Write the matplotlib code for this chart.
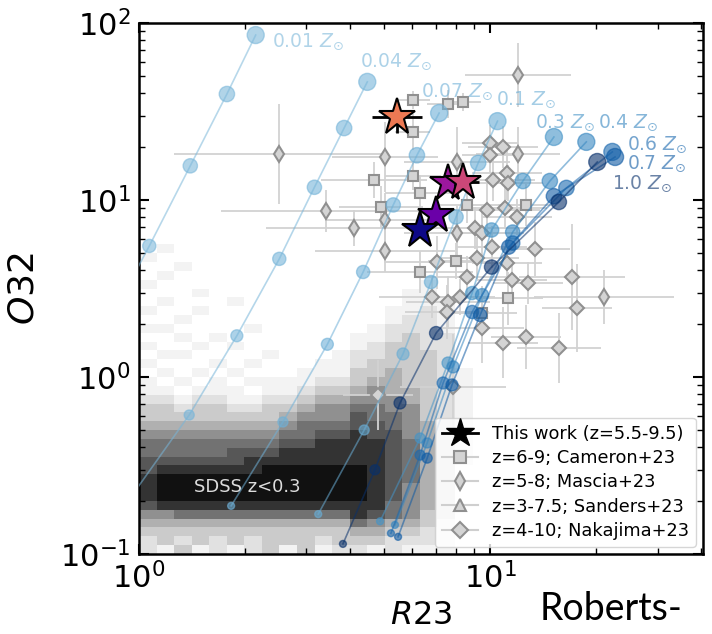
import numpy as np
import matplotlib.pyplot as plt
from matplotlib.lines import Line2D
from matplotlib.ticker import NullFormatter

# SDSS z<0.3 background: grey level (0 = empty, 9 = darkest),
# cells of 0.05 dex, top row first
sdss_log_r23_edges = np.linspace(0.0, 1.0, 21)
sdss_log_o32_edges = np.linspace(-1.0, 0.8, 37)
sdss_rows = [
    "00000000000000000000",
    "01000000000000000000",
    "10000000000000000000",
    "00100000000000000000",
    "01000000000000000000",
    "10000000000000001000",
    "00010000000000011000",
    "01000100000000011100",
    "10010000000000112100",
    "00100000000000122100",
    "11000010000001222100",
    "00101000000011232200",
    "10010100000012332200",
    "01100001000122333200",
    "10001010001123333200",
    "01010100011133433210",
    "10101011112234433210",
    "11011101123345443210",
    "22122112234455543210",
    "33233223345566553210",
    "33333333455576653210",
    "44444444566677654210",
    "55555555667787754210",
    "66666666778888764210",
    "66666777888888764210",
    "77777788888888764210",
    "78888889999998764200",
    "89999999999998764200",
    "89999999999998754200",
    "89999999999998754200",
    "78888888888888654200",
    "55666666666687653200",
    "44444444444465443100",
    "33333333333344332100",
    "23232323332333222100",
    "21312123131221211100",
]

# photoionisation model tracks, 7 ionisation parameters each (low U -> high U)
model_Z = [0.01, 0.04, 0.07, 0.1, 0.3, 0.4, 0.6, 0.7, 1.0]
model_names = ['0.01', '0.04', '0.07', '0.1', '0.3', '0.4', '0.6', '0.7', '1.0']
r23_z001 = [0.47, 0.62, 0.81, 1.07, 1.40, 1.78, 2.15]
o32_z001 = [0.25, 0.69, 1.95, 5.50, 15.6, 39.7, 85.5]
r23_z004 = [0.955, 1.39, 1.90, 2.51, 3.16, 3.84, 4.47]
o32_z004 = [0.214, 0.610, 1.71, 4.65, 11.8, 25.5, 46.5]
r23_z007 = [1.83, 2.57, 3.44, 4.35, 5.30, 6.19, 7.16]
o32_z007 = [0.187, 0.557, 1.53, 3.92, 9.38, 17.9, 31.0]
r23_z01 = [3.24, 4.38, 5.65, 6.79, 8.00, 9.25, 10.5]
o32_z01 = [0.168, 0.502, 1.35, 3.44, 8.02, 16.2, 27.9]
r23_z03 = [4.86, 6.32, 7.59, 8.89, 10.1, 12.4, 15.2]
o32_z03 = [0.153, 0.452, 1.20, 2.98, 6.77, 12.8, 22.7]
r23_z04 = [5.36, 6.62, 7.85, 9.49, 11.6, 14.8, 18.8]
o32_z04 = [0.146, 0.424, 1.14, 2.90, 6.59, 12.8, 21.3]
r23_z06 = [5.22, 6.32, 7.35, 8.89, 11.6, 16.5, 22.3]
o32_z06 = [0.131, 0.362, 0.925, 2.33, 5.71, 11.7, 18.7]
r23_z07 = [5.47, 6.62, 7.79, 9.37, 11.3, 15.2, 22.7]
o32_z07 = [0.125, 0.348, 0.902, 2.24, 5.42, 10.5, 17.5]
r23_z10 = [3.81, 4.70, 5.54, 7.02, 10.1, 15.7, 20.2]
o32_z10 = [0.114, 0.299, 0.713, 1.77, 4.18, 9.75, 16.4]
# where the metallicity labels sit
label_r23 = [2.40, 4.25, 6.35, 10.4, 13.4, 20.3, 24.6, 24.6, 22.2]
label_o32 = [78.2, 60.2, 40.8, 37.0, 27.4, 27.4, 20.6, 16.0, 12.4]

# literature samples (errors in dex)
cam_r23 = [6.03, 7.59, 8.38, 6.03, 4.67, 6.03, 6.32, 4.89, 8.60, 12.66, 8.00, 6.32, 11.25, 9.49]
cam_o32 = [36.7, 34.9, 35.8, 24.2, 12.97, 13.7, 10.95, 9.13, 9.37, 9.37, 4.52, 3.92, 2.79, 2.30]
cam_r23_err = [0.05, 0.06, 0.05, 0.05, 0.15, 0.08, 0.1, 0.12, 0.1, 0.08, 0.08, 0.15, 0.1, 0.1]
cam_o32_err = [0.05, 0.08, 0.05, 0.1, 0.1, 0.08, 0.1, 0.12, 0.1, 0.12, 0.1, 0.12, 0.15, 0.15]

mas_r23 = [2.51, 3.41, 4.10, 5.02, 5.02, 5.02, 8.05, 8.05, 12.02, 12.02, 21.13]
mas_o32 = [18.2, 8.67, 6.95, 17.5, 7.71, 5.15, 16.4, 6.51, 50.8, 18.2, 2.83]
mas_r23_err = [0.3, 0.3, 0.25, 0.15, 0.17, 0.2, 0.15, 0.15, 0.15, 0.12, 0.2]
mas_o32_err = [0.28, 0.12, 0.1, 0.2, 0.15, 0.12, 0.2, 0.15, 0.18, 0.15, 0.15]

nak_r23 = [10.0, 10.89, 10.0, 11.18, 10.2, 11.25, 9.80, 11.03, 11.94, 9.06,
           9.49, 10.13, 13.44, 9.18, 7.06, 11.18, 8.60, 11.55, 12.83, 17.13,
           6.84, 7.59, 8.21, 7.54, 17.70, 9.49, 10.89, 12.66, 15.73, 7.85, 4.80]
nak_o32 = [21.0, 19.9, 17.96, 14.2, 12.97, 12.5, 8.78, 9.02, 8.02, 6.95,
           6.51, 5.43, 5.29, 4.70, 4.46, 4.41, 3.67, 3.53, 3.40, 3.67,
           2.83, 2.65, 2.83, 2.33, 2.45, 1.89, 1.56, 1.68, 1.46, 0.878, 0.791]
nak_r23_err = [0.08, 0.1, 0.08, 0.1, 0.12, 0.1, 0.15, 0.12, 0.1, 0.15,
               0.12, 0.1, 0.1, 0.12, 0.15, 0.1, 0.12, 0.1, 0.1, 0.15,
               0.15, 0.12, 0.1, 0.12, 0.1, 0.12, 0.1, 0.1, 0.12, 0.15, 0.1]
nak_o32_err = [0.1, 0.12, 0.1, 0.15, 0.12, 0.1, 0.15, 0.12, 0.1, 0.12,
               0.15, 0.12, 0.15, 0.12, 0.15, 0.1, 0.12, 0.1, 0.12, 0.3,
               0.12, 0.15, 0.1, 0.15, 0.25, 0.2, 0.2, 0.18, 0.2, 0.3, 0.2]

# this work
star_r23 = [7.59, 8.38, 7.02, 6.32, 5.43]
star_o32 = [12.5, 12.6, 8.22, 6.77, 29.4]
star_r23_err = [0.0, 0.045, 0.0, 0.0, 0.07]
star_o32_err = [0.0, 0.0, 0.0, 0.0, 0.09]
star_colors = ['#9c179e', '#cc4778', '#6a00a8', '#0d0887', '#ed7953']

legend_labels = ['This work (z=5.5-9.5)', 'z=6-9; Cameron+23', 'z=5-8; Mascia+23',
                 'z=3-7.5; Sanders+23', 'z=4-10; Nakajima+23']


def dex_err(vals, dex):
    vals = np.asarray(vals, dtype=float)
    dex = np.asarray(dex, dtype=float)
    return [vals - vals / 10**dex, vals * 10**dex - vals]


fig = plt.figure(figsize=(7.12, 6.34), dpi=100)
ax = fig.add_axes([0.1952, 0.1262, 0.7921, 0.8375])
ax.set_xscale('log')
ax.set_yscale('log')

# SDSS map
grid = np.array([[int(c) for c in row] for row in sdss_rows[::-1]], dtype=float)
grid = np.ma.masked_equal(grid, 0)
ax.pcolormesh(10**sdss_log_r23_edges, 10**sdss_log_o32_edges, grid,
              cmap='Greys', vmin=0, vmax=9.6, zorder=0)
ax.text(2.04, 0.239, 'SDSS z<0.3', color='#dcdcdc', fontsize=13,
        ha='center', va='center', zorder=1)

# literature points
gray_kw = dict(ls='none', mfc='#d4d4d4', mec='#909090', ecolor='#d2d2d2',
               elinewidth=1.3, capsize=0, zorder=2)
ax.errorbar(cam_r23, cam_o32, xerr=dex_err(cam_r23, cam_r23_err),
            yerr=dex_err(cam_o32, cam_o32_err), marker='s', ms=7, mew=1.5, **gray_kw)
ax.errorbar(mas_r23, mas_o32, xerr=dex_err(mas_r23, mas_r23_err),
            yerr=dex_err(mas_o32, mas_o32_err), marker='d', ms=8, mew=1.5, **gray_kw)
ax.errorbar(nak_r23, nak_o32, xerr=dex_err(nak_r23, nak_r23_err),
            yerr=dex_err(nak_o32, nak_o32_err), marker='D', ms=7.5, mew=1.5, **gray_kw)

# model tracks
tracks = [(r23_z001, o32_z001), (r23_z004, o32_z004), (r23_z007, o32_z007),
          (r23_z01, o32_z01), (r23_z03, o32_z03), (r23_z04, o32_z04),
          (r23_z06, o32_z06), (r23_z07, o32_z07), (r23_z10, o32_z10)]
track_sizes = [25, 52, 74, 90, 106, 122, 150]
for i, (r, o) in enumerate(tracks):
    col = plt.cm.Blues(0.45 + 0.55 * model_Z[i])
    ax.plot(r, o, color=col, lw=1.2, alpha=0.55, zorder=3)
    ax.scatter(r, o, s=track_sizes, color=col, alpha=0.6, edgecolors=col,
               linewidths=1, zorder=3)
    ax.text(label_r23[i], label_o32[i], model_names[i] + r' $Z_{\odot}$',
            color=col, alpha=0.6, fontsize=13.5, ha='left', va='center', zorder=3)

# this work
for r, o, ex, ey, c in zip(star_r23, star_o32, star_r23_err, star_o32_err, star_colors):
    ax.errorbar([r], [o], xerr=dex_err([r], [ex]), yerr=dex_err([o], [ey]),
                fmt='*', ms=28, mfc=c, mec='k', mew=1.5, ecolor='k',
                elinewidth=2, capsize=0, zorder=5)

handles = [
    Line2D([], [], color='k', marker='*', ms=21, lw=2),
    Line2D([], [], color='#cfcfcf', marker='s', ms=8, mfc='#d4d4d4', mec='#909090', mew=1.5, lw=1.5),
    Line2D([], [], color='#cfcfcf', marker='d', ms=9, mfc='#d4d4d4', mec='#909090', mew=1.5, lw=1.5),
    Line2D([], [], color='#cfcfcf', marker='^', ms=9, mfc='#d4d4d4', mec='#909090', mew=1.5, lw=1.5),
    Line2D([], [], color='#cfcfcf', marker='D', ms=8, mfc='#d4d4d4', mec='#909090', mew=1.5, lw=1.5),
]
leg = ax.legend(handles, legend_labels, loc='lower right', fontsize=12.8,
                framealpha=0.8, edgecolor='#cccccc', handlelength=2.0,
                labelspacing=0.35, borderpad=0.4, borderaxespad=0.4)
leg.set_zorder(6)

ax.set_xlim(1, 40.4)
ax.set_ylim(0.1, 100)
ax.xaxis.set_minor_formatter(NullFormatter())
ax.yaxis.set_minor_formatter(NullFormatter())
ax.tick_params(which='both', direction='in', top=True, right=True)
ax.tick_params(which='major', length=7, width=1.5, labelsize=22, pad=6)
ax.tick_params(which='minor', length=4, width=1)
for s in ax.spines.values():
    s.set_linewidth(1.8)
ax.set_xlabel('$R23$', fontsize=23, labelpad=4)
ax.set_ylabel('$O32$', fontsize=26, labelpad=14)

fig.text(0.758, 0.022, 'Roberts-', fontsize=27, family='Lato')

fig.savefig('out.png', dpi=100)
